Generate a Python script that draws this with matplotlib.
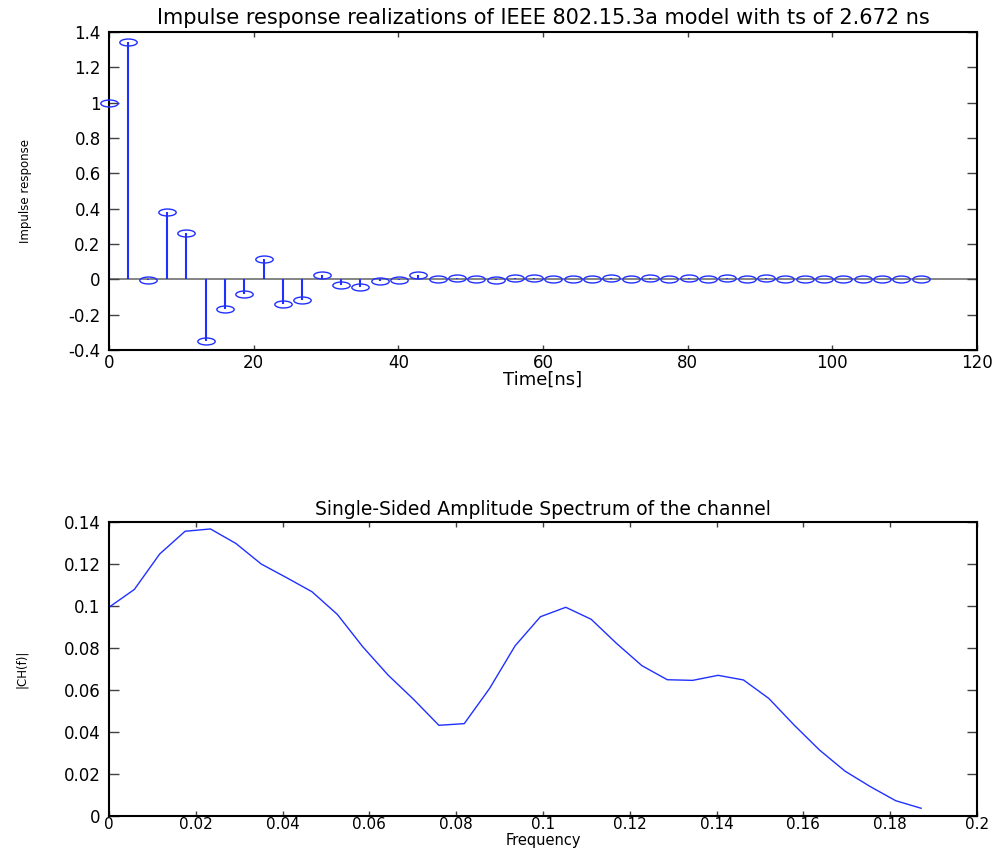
import numpy as np
import matplotlib.pyplot as plt
from matplotlib.path import Path
from matplotlib.transforms import Affine2D
from matplotlib.ticker import FormatStrFormatter, MultipleLocator

plt.rcParams['font.family'] = ['DejaVu Sans']
plt.rcParams['axes.unicode_minus'] = False

# sampled channel impulse response, ts = 2.672 ns
ts = 2.672
h = [1.0, 1.343, -0.004, 0.381, 0.264, -0.349, -0.170, -0.083, 0.113, -0.138,
     -0.119, 0.027, -0.035, -0.041, -0.008, -0.004, 0.022, 0.0, 0.007, 0.0,
     -0.005, 0.007, 0.007, 0.0, 0.0, 0.0, 0.007, 0.0, 0.007, 0.0,
     0.007, 0.0, 0.007, 0.0, 0.007, 0.0, 0.0, 0.0, 0.0, 0.0,
     0.0, 0.0, 0.0]
t = np.arange(len(h)) * ts

# single-sided amplitude spectrum, 64-point FFT
nfft = 64
ch_mag = [0.0994, 0.1079, 0.1248, 0.1356, 0.1367, 0.1298, 0.1200, 0.1135, 0.1068,
          0.0960, 0.0806, 0.0671, 0.0556, 0.0432, 0.0440, 0.0608, 0.0810, 0.0949,
          0.0994, 0.0937, 0.0822, 0.0716, 0.0649, 0.0646, 0.0670, 0.0648, 0.0560,
          0.0433, 0.0314, 0.0214, 0.0140, 0.0073, 0.0037]
freq = (1.0 / ts) * np.arange(len(ch_mag)) / nfft

# flat ellipse marker for the stem heads
ellipse = Path.unit_circle().transformed(Affine2D().scale(1.0, 0.4))

fig = plt.figure(figsize=(10.08, 8.48), dpi=100)
ax1 = fig.add_axes([0.1081, 0.5873, 0.8611, 0.375])
ax2 = fig.add_axes([0.1081, 0.0377, 0.8611, 0.3467])

ax1.axhline(0, color='#707070', lw=1.2, zorder=1)
ax1.vlines(t, 0, h, color='#2030ff', lw=1.5, zorder=2)
ax1.plot(t, h, ls='none', marker=ellipse, markersize=12.5, mfc='none',
         mec='#2030ff', mew=1.0, zorder=3, clip_on=False)
ax1.set_xlim(0, 120)
ax1.set_ylim(-0.4, 1.4)
ax1.xaxis.set_major_locator(MultipleLocator(20))
ax1.yaxis.set_major_locator(MultipleLocator(0.2))
ax1.set_title('Impulse response realizations of IEEE 802.15.3a model with ts of 2.672 ns',
              fontsize=15, pad=6)
ax1.set_xlabel('Time[ns]', fontsize=13, labelpad=-1)
ax1.set_ylabel('Impulse response', fontsize=8.5, labelpad=26)

ax2.plot(freq, ch_mag, color='#2030ff', lw=1.0)
ax2.set_xlim(0, 0.2)
ax2.set_ylim(0, 0.14)
ax2.xaxis.set_major_locator(MultipleLocator(0.02))
ax2.yaxis.set_major_locator(MultipleLocator(0.02))
ax2.set_title('Single-Sided Amplitude Spectrum of the channel', fontsize=13.5, pad=5)
ax2.set_xlabel('Frequency', fontsize=10.5)
ax2.xaxis.set_label_coords(0.5, -0.058)
ax2.set_ylabel('|CH(f)|', fontsize=8.5, labelpad=26)

for ax in (ax1, ax2):
    ax.xaxis.set_major_formatter(FormatStrFormatter('%g'))
    ax.yaxis.set_major_formatter(FormatStrFormatter('%g'))
    ax.tick_params(axis='x', direction='in', top=True, length=3.5, width=1,
                   color='#404040', labelsize=12, pad=3)
    ax.tick_params(axis='y', direction='in', right=True, length=7, width=1,
                   color='#404040', labelsize=12, pad=6)
    for s in ax.spines.values():
        s.set_linewidth(1.5)

# bottom panel: tick labels sit close to the figure edge
ax2.tick_params(axis='x', labelsize=11, pad=1)

fig.savefig('out.png', dpi=100)
